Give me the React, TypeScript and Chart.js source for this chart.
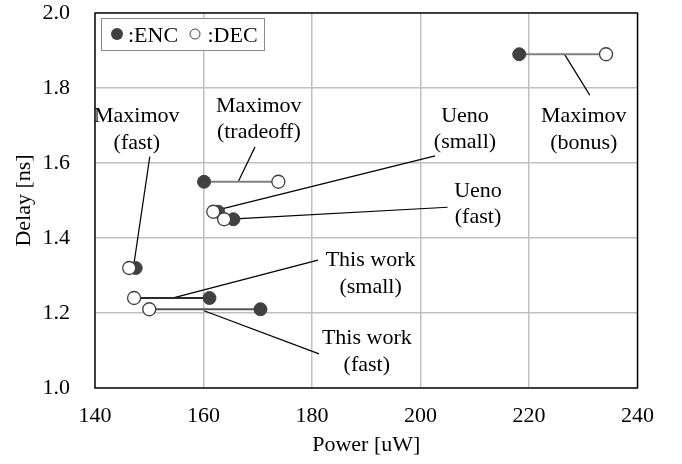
import React, { useEffect, useRef } from "react";
import { Chart, registerables } from "chart.js";

Chart.register(...registerables);

// ---- data ----
const designLine1 = ["Maximov", "Maximov", "Ueno", "Ueno", "Maximov", "This work", "This work"];
const designLine2 = ["(bonus)", "(tradeoff)", "(small)", "(fast)", "(fast)", "(small)", "(fast)"];
const encPower = [218.2, 160.1, 162.7, 165.5, 147.5, 161.1, 170.5];
const decPower = [234.2, 173.8, 161.8, 163.8, 146.3, 147.2, 150.0];
const delay = [1.89, 1.55, 1.47, 1.45, 1.32, 1.24, 1.21];

// label anchors (x centre, baseline of first line) in data units
const labelX = [230.1, 170.2, 208.2, 210.6, 147.7, 190.8, 190.1];
const labelY = [1.709, 1.737, 1.71, 1.51, 1.709, 1.325, 1.117];
// callout leader lines in data units
const calloutFromX = [226.5, 166.4, 163.2, 165.8, 147.2, 154.6, 160.1];
const calloutFromY = [1.891, 1.55, 1.477, 1.451, 1.333, 1.241, 1.206];
const calloutToX = [231.2, 169.5, 202.7, 205.0, 150.1, 181.1, 181.3];
const calloutToY = [1.781, 1.643, 1.619, 1.482, 1.617, 1.341, 1.091];

const xTicks = [140, 160, 180, 200, 220, 240];
const yTicks = [1.0, 1.2, 1.4, 1.6, 1.8, 2.0];
const yTickLabels = ["1.0", "1.2", "1.4", "1.6", "1.8", "2.0"];

const linkColors = ["#7f7f7f", "#7f7f7f", "#7f7f7f", "#7f7f7f", "#7f7f7f", "#2a2a2a", "#555555"];

const FONT = '"Liberation Serif", "Times New Roman", serif';

export default function App() {
  const ref = useRef<HTMLCanvasElement | null>(null);

  useEffect(() => {
    document.body.style.margin = "0";
    const canvas = ref.current;
    if (!canvas) return;

    const datasets: any[] = [];
    datasets.push({
      label: "DEC",
      data: decPower.map((x, i) => ({ x, y: delay[i] })),
      pointRadius: 6.5,
      pointBackgroundColor: "#ffffff",
      pointBorderColor: "#404040",
      pointBorderWidth: 1.3,
      showLine: false,
      order: 0,
    });
    datasets.push({
      label: "ENC",
      data: encPower.map((x, i) => ({ x, y: delay[i] })),
      pointRadius: 6.5,
      pointBackgroundColor: "#404040",
      pointBorderColor: "#404040",
      pointBorderWidth: 1,
      showLine: false,
      order: 1,
    });
    encPower.forEach((x, i) => {
      datasets.push({
        label: "link" + i,
        data: [
          { x, y: delay[i] },
          { x: decPower[i], y: delay[i] },
        ],
        showLine: true,
        borderColor: linkColors[i],
        borderWidth: 2,
        pointRadius: 0,
        order: 2,
      });
    });
    calloutFromX.forEach((x, i) => {
      datasets.push({
        label: "callout" + i,
        data: [
          { x, y: calloutFromY[i] },
          { x: calloutToX[i], y: calloutToY[i] },
        ],
        showLine: true,
        borderColor: "#000000",
        borderWidth: 1.2,
        pointRadius: 0,
        order: 3,
      });
    });

    const overlay = {
      id: "overlay",
      afterDraw(chart: any) {
        const { ctx, chartArea, scales } = chart;
        const xs = scales.x;
        const ys = scales.y;
        ctx.save();
        // frame
        ctx.strokeStyle = "#000";
        ctx.lineWidth = 1.4;
        ctx.strokeRect(chartArea.left, chartArea.top, chartArea.right - chartArea.left, chartArea.bottom - chartArea.top);
        // labels
        ctx.font = "22px " + FONT;
        ctx.fillStyle = "#000";
        ctx.textAlign = "center";
        ctx.textBaseline = "alphabetic";
        labelX.forEach((lx, i) => {
          const px = xs.getPixelForValue(lx);
          const py = ys.getPixelForValue(labelY[i]);
          ctx.fillText(designLine1[i], px, py);
          ctx.fillText(designLine2[i], px, py + 26.5);
        });
        // legend
        const lx = chartArea.left + 6;
        const ly = chartArea.top + 5;
        ctx.fillStyle = "#fff";
        ctx.fillRect(lx, ly, 163, 32);
        ctx.strokeStyle = "#8a8a8a";
        ctx.lineWidth = 1;
        ctx.strokeRect(lx + 0.5, ly + 0.5, 163, 32);
        ctx.beginPath();
        ctx.arc(lx + 16, ly + 16, 6, 0, Math.PI * 2);
        ctx.fillStyle = "#404040";
        ctx.fill();
        ctx.beginPath();
        ctx.arc(lx + 94, ly + 16, 5, 0, Math.PI * 2);
        ctx.fillStyle = "#fff";
        ctx.fill();
        ctx.strokeStyle = "#404040";
        ctx.lineWidth = 1;
        ctx.stroke();
        ctx.fillStyle = "#000";
        ctx.textAlign = "left";
        ctx.fillText(":ENC", lx + 27, ly + 24);
        ctx.fillText(":DEC", lx + 106.5, ly + 24);
        ctx.restore();
      },
    };

    const chart = new Chart(canvas, {
      type: "scatter",
      data: { datasets },
      options: {
        animation: false,
        responsive: false,
        devicePixelRatio: 1,
        layout: { padding: { left: 0, top: 13, right: 44.5, bottom: 0 } },
        plugins: {
          legend: { display: false },
          tooltip: { enabled: false },
        },
        scales: {
          x: {
            type: "linear",
            min: 140,
            max: 240,
            afterBuildTicks: (s: any) => {
              s.ticks = xTicks.map((v) => ({ value: v }));
            },
            afterFit: (s: any) => {
              s.height = 76;
              s.paddingLeft = 0;
              s.paddingRight = 0;
            },
            ticks: {
              color: "#000",
              font: { family: FONT, size: 22 },
              padding: 15,
              maxRotation: 0,
              callback: (v: any) => String(v),
            },
            grid: { color: "#c0c0c0", lineWidth: 1.5, drawTicks: false },
            border: { display: false },
            title: {
              display: true,
              text: "Power [uW]",
              color: "#000",
              font: { family: FONT, size: 22 },
              padding: { top: 0, bottom: 6 },
            },
          },
          y: {
            type: "linear",
            min: 1.0,
            max: 2.0,
            afterBuildTicks: (s: any) => {
              s.ticks = yTicks.map((v) => ({ value: v }));
            },
            afterFit: (s: any) => {
              s.width = 95;
              s.paddingTop = 0;
              s.paddingBottom = 0;
            },
            ticks: {
              color: "#000",
              font: { family: FONT, size: 22 },
              padding: 25,
              callback: (v: any) => {
                const idx = yTicks.findIndex((t) => Math.abs(t - v) < 1e-6);
                return idx >= 0 ? yTickLabels[idx] : "";
              },
            },
            grid: { color: "#c0c0c0", lineWidth: 1.5, drawTicks: false },
            border: { display: false },
            title: {
              display: true,
              text: "Delay [ns]",
              color: "#000",
              font: { family: FONT, size: 22 },
              padding: { top: 11, bottom: 0 },
            },
          },
        },
      },
      plugins: [overlay],
    });

    return () => chart.destroy();
  }, []);

  return <canvas ref={ref} width={682} height={464} style={{ display: "block", width: 682, height: 464 }} />;
}
